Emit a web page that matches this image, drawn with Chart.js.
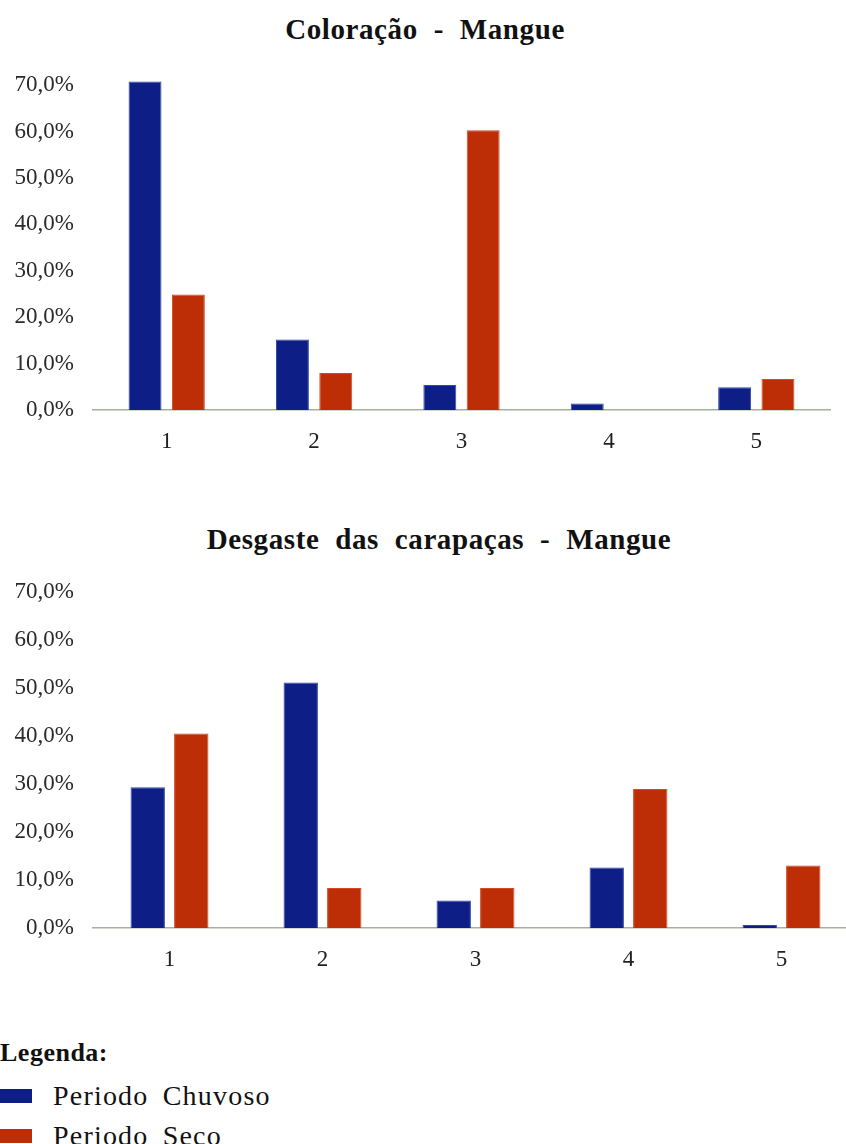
<!DOCTYPE html>
<html lang="pt">
<head>
<meta charset="utf-8">
<title>Coloração e Desgaste - Mangue</title>
<script src="https://cdn.jsdelivr.net/npm/chart.js@4.4.1/dist/chart.umd.min.js"></script>
<style>
  html, body { margin: 0; padding: 0; background: #fff; overflow: hidden; }
  body { width: 846px; height: 1144px; position: relative; font-family: "Liberation Serif", "Times New Roman", serif; color: #111; }
  .box { position: absolute; left: 0; }
  .title { position: absolute; font-weight: bold; font-size: 29px; letter-spacing: 0.6px; word-spacing: 8px; white-space: nowrap; transform: translateX(-50%); line-height: 1; }
  .legend { position: absolute; left: 0; top: 1038px; }
  .legend h4 { margin: 0 0 8px 0; font-size: 26px; font-weight: bold; letter-spacing: 0.5px; line-height: 30px; }
  .item { display: flex; align-items: center; height: 40px; font-size: 28px; letter-spacing: 1.2px; word-spacing: 6px; }
  .sw { width: 32px; height: 14px; margin-right: 21px; }
</style>
</head>
<body>

<div class="title" style="left:425px; top:15px;">Coloração - Mangue</div>
<div class="box" style="top:0; width:850px; height:470px;"><canvas id="coloracao"></canvas></div>

<div class="title" style="left:439px; top:525px;">Desgaste das carapaças - Mangue</div>
<div class="box" style="top:500px; width:880px; height:490px;"><canvas id="desgaste"></canvas></div>

<div class="legend">
  <h4>Legenda:</h4>
  <div class="item"><span class="sw" id="swChuvoso"></span>Periodo Chuvoso</div>
  <div class="item"><span class="sw" id="swSeco"></span>Periodo Seco</div>
</div>

<script>
// categorias e valores (%)
const categories = ['1', '2', '3', '4', '5'];
const seriesNames = ['Periodo Chuvoso', 'Periodo Seco'];

const coloracaoChuvoso = [70.8, 15.2, 5.4, 1.4, 4.9];
const coloracaoSeco = [24.9, 8.0, 60.3, 0, 6.7];

const desgasteChuvoso = [29.3, 51.1, 5.7, 12.6, 0.6];
const desgasteSeco = [40.5, 8.3, 8.3, 28.9, 13.0];

const yTicks = [0, 10, 20, 30, 40, 50, 60, 70];

const BLUE = '#0d1f87';
const RED = '#bd2d06';
const FONT = '"Liberation Serif", "Times New Roman", serif';

document.getElementById('swChuvoso').style.background = BLUE;
document.getElementById('swSeco').style.background = RED;

function makeChart(canvasId, chuvoso, seco, cfg) {
    const ctx = document.getElementById(canvasId);
    return new Chart(ctx, {
        type: 'bar',
        data: {
            labels: categories,
            datasets: [
                {
                    label: seriesNames[0],
                    data: chuvoso,
                    backgroundColor: BLUE,
                    borderColor: '#3546a6',
                    borderWidth: 1,
                    categoryPercentage: cfg.catPct,
                    barPercentage: cfg.barPct
                },
                {
                    label: seriesNames[1],
                    data: seco,
                    backgroundColor: RED,
                    borderColor: '#d24a22',
                    borderWidth: 1,
                    categoryPercentage: cfg.catPct,
                    barPercentage: cfg.barPct
                }
            ]
        },
        options: {
            responsive: true,
            maintainAspectRatio: false,
            animation: false,
            layout: { padding: { top: cfg.top, right: cfg.right, left: 0, bottom: 0 } },
            scales: {
                x: {
                    grid: { display: false, drawTicks: false },
                    border: { display: true, color: '#a2b29b', width: 1.5 },
                    ticks: { color: '#222', padding: 18, font: { family: FONT, size: 23 } },
                    afterFit: (scale) => { scale.height = cfg.xHeight; }
                },
                y: {
                    min: 0,
                    max: 72,
                    grid: { display: false, drawTicks: false },
                    border: { display: false },
                    ticks: {
                        stepSize: 10,
                        color: '#2a2a2a',
                        padding: 19,
                        font: { family: FONT, size: 23 },
                        callback: (v) => v.toFixed(1).replace('.', ',') + '%'
                    },
                    afterBuildTicks: (scale) => {
                        scale.ticks = yTicks.map(v => ({ value: v }));
                    },
                    afterFit: (scale) => { scale.width = 93; }
                }
            },
            plugins: {
                legend: { display: false },
                title: { display: false },
                tooltip: { enabled: false }
            }
        }
    });
}

makeChart('coloracao', coloracaoChuvoso, coloracaoSeco,
    { catPct: 0.588, barPct: 0.76, top: 76, right: 20, xHeight: 60 });

makeChart('desgaste', desgasteChuvoso, desgasteSeco,
    { catPct: 0.569, barPct: 0.79, top: 82, right: 22, xHeight: 62 });
</script>
</body>
</html>
